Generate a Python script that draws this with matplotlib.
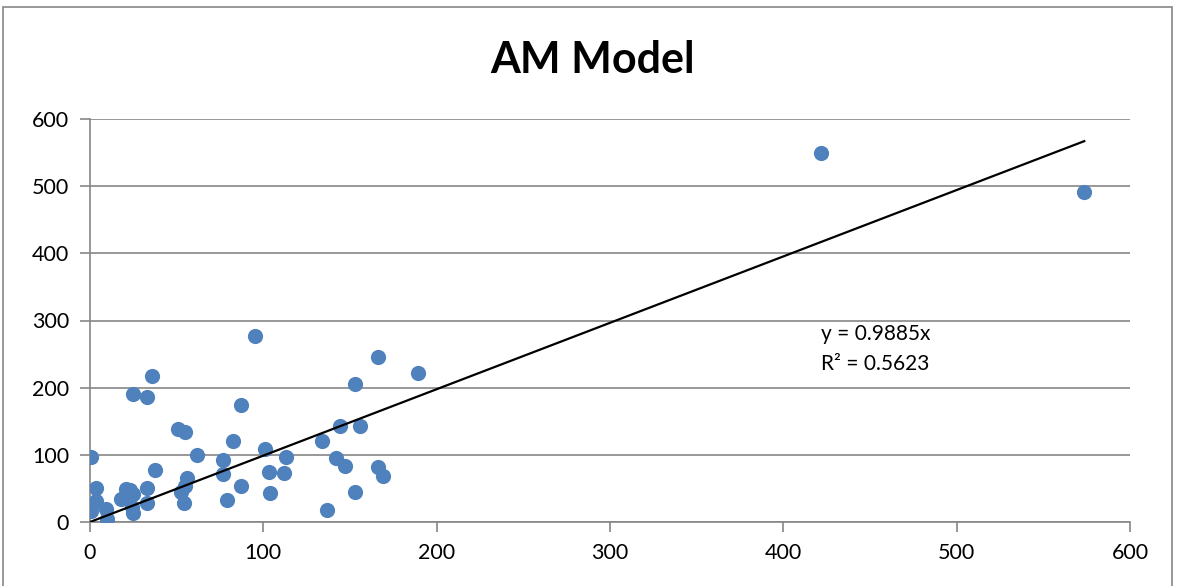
import matplotlib.pyplot as plt
import numpy as np
from matplotlib.patches import Rectangle

plt.rcParams['font.family'] = ['Lato', 'DejaVu Sans']

x = [0.5, 0.5, 3.5, 3.5, 9, 10, 18, 21, 23, 24, 25, 25, 25, 33, 33, 33,
     36, 37.5, 51, 55, 52.5, 54, 55, 56, 62, 77, 77, 79, 82.5, 87, 87,
     95, 101, 103, 104, 112, 113, 134, 137, 142, 144, 147, 153, 153, 156,
     166, 166, 169, 189, 422, 573.6]
y = [97, 17, 51, 31, 19, 5, 34, 49, 48, 23, 42, 14, 190, 186, 51, 29,
     217, 77, 138, 134, 45, 28, 53, 66, 100, 92, 72, 33, 120, 174, 53,
     277, 109, 74, 43, 73, 97, 120, 18, 95, 143, 83, 206, 44, 143,
     246, 82, 68, 222, 549, 491]
slope = 0.9885
r2 = 0.5623

fig = plt.figure(figsize=(11.78, 5.86), dpi=100)
ax = fig.add_axes([90/1178, 64/586, 1040/1178, 403/586])

ax.scatter(x, y, s=120, color="#4F81BD", zorder=3, linewidths=0)
xf = np.array([0, max(x)])
ax.plot(xf, slope * xf, color="black", linewidth=1.6, zorder=4)

ax.set_xlim(0, 600)
ax.set_ylim(0, 600)
ax.set_xticks(np.arange(0, 601, 100))
ax.set_yticks(np.arange(0, 601, 100))
ax.yaxis.grid(True, color="#868686", linewidth=1.2)
ax.set_axisbelow(True)
for side in ["top", "right"]:
    ax.spines[side].set_visible(False)
for side in ["left", "bottom"]:
    ax.spines[side].set_color("#868686")
    ax.spines[side].set_linewidth(1.2)
ax.tick_params(axis="both", direction="out", length=7, width=1.2,
               color="#868686", labelsize=15.5, pad=8)

ax.text(422, 295, "y = 0.9885x\nR\u00b2 = %.4f" % r2, fontsize=15,
        va="top", ha="left", linespacing=1.65)

fig.text(0.503, 0.897, "AM Model", fontsize=31, fontweight="bold",
         ha="center", va="center")

fig.patches.append(Rectangle((3/1178, -0.01), 1169/1178, 1 - 7/586 + 0.01,
                             transform=fig.transFigure, fill=False,
                             edgecolor="#868686", linewidth=1.2))

fig.savefig("out.png", dpi=100)
